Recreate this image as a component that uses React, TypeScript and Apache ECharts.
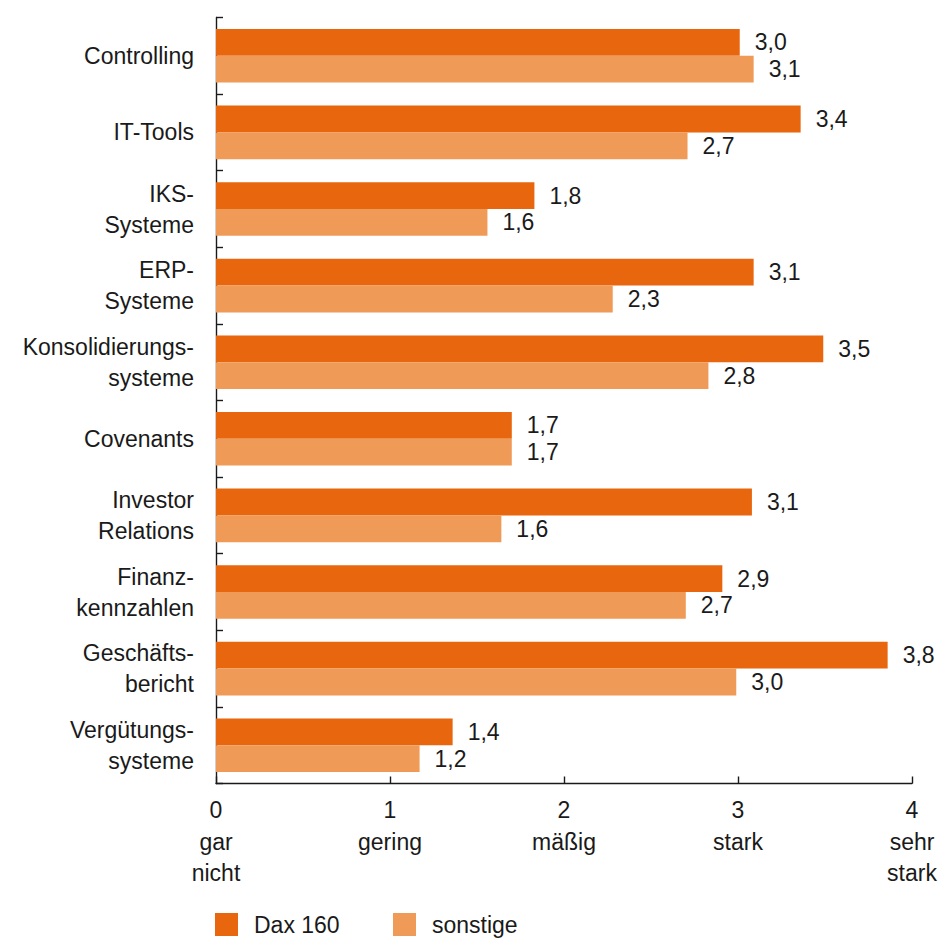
import React, { useEffect, useRef } from "react";
import * as echarts from "echarts";

const categories = [
  "Controlling",
  "IT-Tools",
  "IKS-\nSysteme",
  "ERP-\nSysteme",
  "Konsolidierungs-\nsysteme",
  "Covenants",
  "Investor\nRelations",
  "Finanz-\nkennzahlen",
  "Geschäfts-\nbericht",
  "Vergütungs-\nsysteme",
];

// bar lengths
const dax160 = [3.01, 3.36, 1.83, 3.09, 3.49, 1.7, 3.08, 2.91, 3.86, 1.36];
const sonstige = [3.09, 2.71, 1.56, 2.28, 2.83, 1.7, 1.64, 2.7, 2.99, 1.17];

// printed value labels
const dax160Labels = ["3,0", "3,4", "1,8", "3,1", "3,5", "1,7", "3,1", "2,9", "3,8", "1,4"];
const sonstigeLabels = ["3,1", "2,7", "1,6", "2,3", "2,8", "1,7", "1,6", "2,7", "3,0", "1,2"];

const xTickNumbers = ["0", "1", "2", "3", "4"];
const xTickWords = ["gar\nnicht", "gering", "mäßig", "stark", "sehr\nstark"];

const seriesNames = ["Dax 160", "sonstige"];
const colors = ["#E8670E", "#F09A57"];

const FONT = "'Liberation Sans', Arial, Helvetica, sans-serif";
const TEXT = "#1a1a1a";

export default function App() {
  const ref = useRef<HTMLDivElement>(null);

  useEffect(() => {
    if (!ref.current) return;
    const chart = echarts.init(ref.current, null, { renderer: "svg" });
    const legendBase = {
      itemWidth: 23,
      itemHeight: 23,
      padding: 0,
      icon: "rect",
      top: 913,
      textStyle: { fontFamily: FONT, fontSize: 23, color: TEXT, padding: [0, 0, 0, 11] },
    };
    chart.setOption({
      animation: false,
      textStyle: { fontFamily: FONT, color: TEXT },
      grid: { left: 216, right: 29, top: 17.5, bottom: 154.5, containLabel: false },
      legend: [
        { ...legendBase, data: [seriesNames[0]], left: 215 },
        { ...legendBase, data: [seriesNames[1]], left: 393 },
      ],
      xAxis: {
        type: "value",
        min: 0,
        max: 4,
        interval: 1,
        splitLine: { show: false },
        axisLine: { show: true, lineStyle: { color: TEXT, width: 1.4 } },
        axisTick: { show: true, inside: true, length: 7, lineStyle: { color: TEXT, width: 1.4 } },
        axisLabel: {
          margin: 11,
          fontFamily: FONT,
          fontSize: 23,
          lineHeight: 31.5,
          color: TEXT,
          align: "center",
          formatter: (v: number) => {
            const i = Math.round(v);
            return `${xTickNumbers[i]}\n${xTickWords[i]}`;
          },
        },
      },
      yAxis: {
        type: "category",
        inverse: true,
        data: categories,
        axisLine: { show: true, lineStyle: { color: TEXT, width: 1.4 } },
        axisTick: { show: true, inside: true, length: 7, lineStyle: { color: TEXT, width: 1.4 } },
        axisLabel: {
          margin: 22,
          fontFamily: FONT,
          fontSize: 23,
          lineHeight: 31,
          color: TEXT,
          align: "right",
        },
      },
      series: [
        {
          name: seriesNames[0],
          type: "bar",
          data: dax160,
          itemStyle: { color: colors[0] },
          barGap: "0%",
          barCategoryGap: "30%",
          label: {
            show: true,
            position: "right",
            distance: 15,
            fontFamily: FONT,
            fontSize: 23,
            color: TEXT,
            formatter: (p: any) => dax160Labels[p.dataIndex],
          },
        },
        {
          name: seriesNames[1],
          type: "bar",
          data: sonstige,
          itemStyle: { color: colors[1] },
          barGap: "0%",
          barCategoryGap: "30%",
          label: {
            show: true,
            position: "right",
            distance: 15,
            fontFamily: FONT,
            fontSize: 23,
            color: TEXT,
            formatter: (p: any) => sonstigeLabels[p.dataIndex],
          },
        },
      ],
    });
    return () => chart.dispose();
  }, []);

  return (
    <div
      ref={ref}
      style={{ position: "fixed", left: 0, top: 0, width: 941, height: 938, background: "#fff" }}
    />
  );
}
